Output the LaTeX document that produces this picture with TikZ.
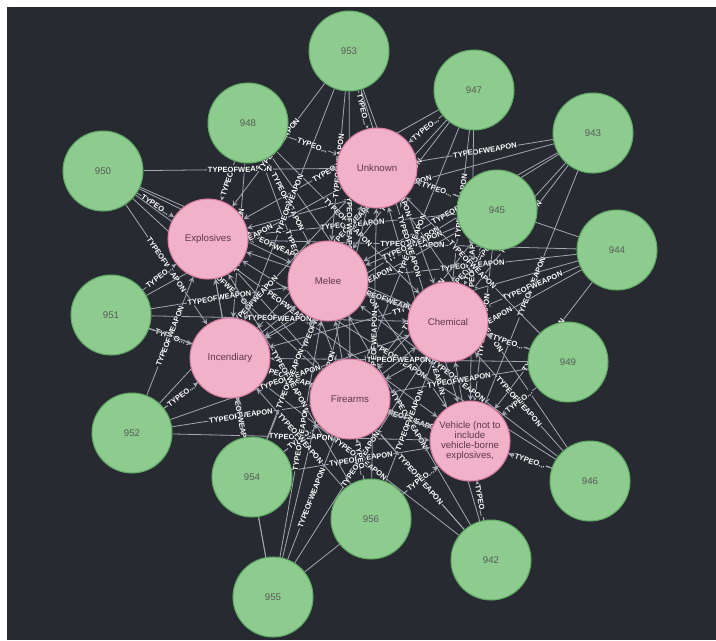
\documentclass[tikz,border=0pt]{standalone}
\usepackage{fontspec}
\setmainfont{Liberation Sans}
\definecolor{bgdark}{HTML}{282A31}
\definecolor{relgray}{HTML}{A3A8B2}
\definecolor{evtgreen}{HTML}{8DCC8E}
\definecolor{evtline}{HTML}{5FA865}
\definecolor{wpnpink}{HTML}{F0B1C9}
\definecolor{wpnline}{HTML}{D67C9E}
\pgfdeclarelayer{backlayer}
\pgfdeclarelayer{edgelayer}
\pgfsetlayers{backlayer,edgelayer,main}
\newcommand\reltxt{TYPEOFWEAPON}

\begin{document}
\begin{tikzpicture}[x=0.02cm, y=-0.02cm,
 every edge/.style = {->, >=stealth, draw=relgray, line width=0.45pt,
   edge node={node[rel] {\reltxt}}},
 trunc/.code = {\def\reltxt{TYPEO...}},
 rel/.style = {sloped, midway, fill=bgdark, text=white, inner sep=0.4pt,
   font=\fontsize{4.3}{4.3}\selectfont\bfseries},
 evt/.style = {circle, draw=evtline, line width=0.6pt, fill=evtgreen, minimum size=1.6cm,
   inner sep=0pt, text=black!65, font=\fontsize{5.5}{5.6}\selectfont},
 wpn/.style = {circle, draw=wpnline, line width=0.6pt, fill=wpnpink, minimum size=1.6cm,
   inner sep=0pt, align=center, text=black!55!wpnline, font=\fontsize{5.5}{5.6}\selectfont}]

\useasboundingbox (0,0) rectangle (716,640);
\begin{pgfonlayer}{backlayer}
\fill[white] (0,0) rectangle (716,640);
\fill[bgdark] (7,7) rectangle (716,640);
\end{pgfonlayer}

% weapon types
\node(unk) [wpn] at (377,168) {Unknown};
\node(expl) [wpn] at (208,239) {Explosives};
\node(mel) [wpn] at (328,281) {Melee};
\node(chem) [wpn] at (448,322) {Chemical};
\node(inc) [wpn] at (230,358) {Incendiary};
\node(fire) [wpn] at (350,399) {Firearms};
\node(veh) [wpn] at (470,441) {Vehicle (not to\\include\\vehicle-borne\\explosives,};

% events
\node(e942) [evt] at (491,560) {942};
\node(e943) [evt] at (593,133) {943};
\node(e944) [evt] at (617,250) {944};
\node(e945) [evt] at (497,210) {945};
\node(e946) [evt] at (590,481) {946};
\node(e947) [evt] at (474,90) {947};
\node(e948) [evt] at (248,123) {948};
\node(e949) [evt] at (568,362) {949};
\node(e950) [evt] at (103,171) {950};
\node(e951) [evt] at (111,315) {951};
\node(e952) [evt] at (132,433) {952};
\node(e953) [evt] at (349,51) {953};
\node(e954) [evt] at (252,477) {954};
\node(e955) [evt] at (273,597) {955};
\node(e956) [evt] at (371,519) {956};
%
\begin{pgfonlayer}{edgelayer}
\path   (e942) edge (unk) edge (expl) edge (mel) edge (chem) edge (inc) edge (fire) edge [trunc] (veh)
        (e943) edge (unk) edge (expl) edge (mel) edge (chem) edge (inc) edge (fire) edge (veh)
        (e944) edge (unk) edge (expl) edge (mel) edge (chem) edge (inc) edge (fire) edge (veh)
        (e945) edge [trunc] (unk) edge (expl) edge (mel) edge [trunc] (chem) edge (inc) edge (fire) edge (veh)
        (e946) edge (unk) edge (expl) edge (mel) edge (chem) edge (inc) edge (fire) edge [trunc] (veh)
        (e947) edge [trunc] (unk) edge (expl) edge (mel) edge (chem) edge (inc) edge (fire) edge (veh)
        (e948) edge [trunc] (unk) edge [trunc] (expl) edge (mel) edge (chem) edge (inc) edge (fire) edge (veh)
        (e949) edge (unk) edge (expl) edge (mel) edge [trunc] (chem) edge (inc) edge (fire) edge [trunc] (veh)
        (e950) edge (unk) edge [trunc] (expl) edge (mel) edge (chem) edge (inc) edge (fire) edge (veh)
        (e951) edge (unk) edge [trunc] (expl) edge (mel) edge (chem) edge [trunc] (inc) edge (fire) edge (veh)
        (e952) edge (unk) edge (expl) edge (mel) edge (chem) edge [trunc] (inc) edge (fire) edge (veh)
        (e953) edge [trunc] (unk) edge (expl) edge (mel) edge (chem) edge (inc) edge (fire) edge (veh)
        (e954) edge (unk) edge (expl) edge (mel) edge (chem) edge [trunc] (inc) edge [trunc] (fire) edge (veh)
        (e955) edge (unk) edge (expl) edge (mel) edge (chem) edge (inc) edge (fire) edge (veh)
        (e956) edge (unk) edge (expl) edge (mel) edge (chem) edge (inc) edge [trunc] (fire) edge [trunc] (veh);
\end{pgfonlayer}

\end{tikzpicture}
\end{document}
